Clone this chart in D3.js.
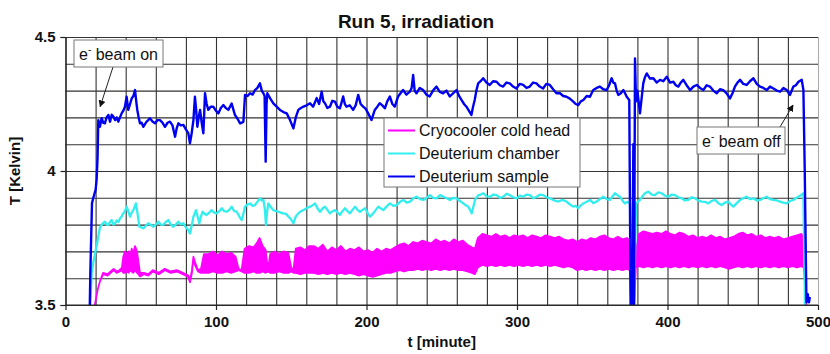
<!DOCTYPE html>
<html lang="en">
<head>
    <meta charset="UTF-8">
    <title>Run 5, irradiation</title>
    <script src="https://d3js.org/d3.v7.min.js"></script>
    <style>
        body {margin: 0; background: white;}
        text {font-family: Arial, "Liberation Sans", sans-serif; fill: #111;}
    </style>
</head>
<body>
<svg id="main" width="830" height="354"></svg>
<script>
    // values, [t (minute), T (Kelvin)]
    let sampleData = [
        [16,3.45],[16.5,3.62],[17.6,3.88],[18.5,3.90],[20,3.93],[20.7,3.97],[21.3,4.05],[21.8,4.19],[22.9,4.165],[24.0,4.197],
        [25.1,4.18],[26.2,4.178],[27.3,4.20],[28.5,4.209],[29.6,4.184],[30.7,4.21],[31.8,4.203],[33,4.19],[34,4.20],[35.1,4.184],
        [36.2,4.20],[37.3,4.215],[38.4,4.225],[39.5,4.24],[40.6,4.277],[41.7,4.228],[42.9,4.25],[44.0,4.271],[45.1,4.28],[46.2,4.302],
        [47.0,4.26],[47.7,4.228],[48.6,4.20],[49.5,4.178],[50.6,4.18],[51.7,4.165],[52.8,4.175],[53.9,4.184],[55,4.19],[56.1,4.197],
        [57.8,4.185],[59.5,4.178],[61.2,4.19],[62.8,4.19],[64.5,4.18],[66.1,4.165],[67.8,4.18],[69.4,4.184],[71.1,4.17],[72.8,4.128],
        [73.9,4.16],[75.0,4.178],[76.6,4.17],[78.3,4.172],[80,4.155],[81.6,4.141],[82.7,4.103],[83.8,4.14],[85.0,4.19],[86.0,4.277],
        [86.8,4.23],[87.6,4.165],[88.5,4.20],[89.4,4.228],[90.5,4.18],[91.6,4.141],[92.2,4.22],[92.7,4.29],[93.8,4.25],[94.9,4.228],
        [96.5,4.24],[98.2,4.24],[99.9,4.225],[101.6,4.215],[103.2,4.235],[104.9,4.246],[106.5,4.235],[108.2,4.228],[109.3,4.24],[110.4,4.252],
        [111.5,4.23],[112.6,4.209],[114.3,4.195],[116.0,4.178],[117.1,4.18],[118.2,4.184],[119.3,4.284],[121,4.28],[122.6,4.29],[124.3,4.285],
        [125.9,4.302],[127.5,4.31],[129.2,4.327],[130.4,4.30],[131.5,4.29],[132.3,4.28],[133.0,4.035],[133.6,4.25],[134.1,4.29],[136.1,4.27],
        [138.1,4.252],[140.3,4.24],[142.5,4.228],[144.8,4.22],[147.0,4.215],[149.2,4.19],[151.4,4.159],[153,4.20],[154.7,4.228],[156.4,4.235],
        [158.1,4.24],[160.3,4.245],[162.5,4.253],[164.5,4.24],[166.9,4.272],[168.5,4.25],[170.2,4.296],[171.3,4.26],[172.4,4.253],[174,4.235],
        [175.7,4.24],[177.3,4.262],[179,4.259],[180.6,4.24],[182.3,4.234],[183.4,4.255],[184.5,4.278],[185.6,4.25],[186.7,4.24],[188.9,4.245],
        [191.1,4.228],[192.8,4.245],[194.5,4.284],[196.1,4.25],[197.8,4.24],[199.5,4.232],[201.1,4.215],[203.3,4.19],[205.5,4.228],[207.2,4.24],
        [208.8,4.253],[210.5,4.245],[212.2,4.234],[213.8,4.26],[215.5,4.278],[217.2,4.25],[218.8,4.24],[221,4.278],[222.6,4.29],[224.3,4.302],
        [226.5,4.285],[228.8,4.296],[230,4.31],[231,4.358],[232,4.30],[233.2,4.29],[235.4,4.31],[237.6,4.302],[239.8,4.285],[242,4.278],
        [244.2,4.30],[246.5,4.315],[248.7,4.295],[250.9,4.29],[253.1,4.30],[255.3,4.278],[257.5,4.29],[259.8,4.302],[261.5,4.28],[263.1,4.265],
        [264.8,4.25],[266.4,4.24],[268,4.225],[269.7,4.209],[270.8,4.24],[271.9,4.265],[273,4.30],[274.2,4.327],[275.8,4.335],[277.5,4.346],
        [279.7,4.33],[281.9,4.321],[284.1,4.335],[286.4,4.333],[288.6,4.32],[290.8,4.315],[293,4.33],[295.2,4.327],[297.4,4.315],[299.6,4.308],
        [301.8,4.325],[304.1,4.321],[306.3,4.31],[308.5,4.315],[310.7,4.33],[312.9,4.327],[315.1,4.315],[317.3,4.308],[319.5,4.325],[321.8,4.321],
        [324,4.305],[326.2,4.29],[328.6,4.29],[330.7,4.28],[332.9,4.277],[335.1,4.27],[337.4,4.259],[339,4.25],[340.7,4.246],[342.4,4.26],
        [344.1,4.265],[346.3,4.28],[348.5,4.277],[349.6,4.29],[350.7,4.302],[352.9,4.31],[355.1,4.315],[357.3,4.305],[359.6,4.302],[361.2,4.32],
        [362.9,4.346],[364,4.33],[365.1,4.327],[366.2,4.30],[367.3,4.284],[369,4.29],[370.7,4.302],[371.8,4.29],[372.9,4.277],[374.6,4.265],
        [375.5,3.48],[376.6,3.48],[377.3,4.10],[377.8,3.48],[378.4,4.42],[379.1,4.26],[380,4.30],[381.7,4.215],[383.9,4.327],[385,4.35],
        [386.2,4.364],[388.4,4.345],[390.6,4.346],[392.8,4.33],[395.0,4.34],[397.2,4.335],[399.5,4.352],[401.7,4.33],[403.9,4.333],[405.5,4.32],
        [407.2,4.315],[408.8,4.33],[410.5,4.34],[412.7,4.32],[415.0,4.302],[417.2,4.315],[419.4,4.321],[421.6,4.31],[423.8,4.302],[426,4.32],
        [428.2,4.315],[430.4,4.30],[432.7,4.29],[434.9,4.305],[437.1,4.302],[439.3,4.29],[441.5,4.271],[443.2,4.29],[444.8,4.315],[446.5,4.33],
        [448.2,4.34],[450.4,4.325],[452.6,4.321],[454.8,4.335],[457.1,4.346],[459.3,4.325],[461.5,4.315],[463.7,4.31],[465.9,4.302],[468.1,4.315],
        [470.4,4.308],[472.6,4.30],[474.8,4.296],[477,4.31],[479.2,4.302],[481.4,4.284],[483.6,4.315],[485.3,4.32],[487.0,4.333],[489.2,4.34],
        [490.3,4.302],[491.2,4.0],[492.3,3.51],[493.2,3.54],[494,3.51],[494.6,3.53]
    ];
    let chamberData = [
        [16.3,3.48],[17.4,3.62],[18.5,3.66],[19.6,3.69],[20.7,3.72],[21.6,3.75],[22.9,3.79],[24.0,3.799],[25.1,3.806],[26.2,3.811],
        [27.3,3.80],[28.5,3.799],[29.6,3.81],[30.7,3.817],[31.8,3.80],[32.9,3.805],[34,3.815],[35.1,3.81],[36.2,3.823],[37.3,3.83],
        [38.4,3.842],[39.5,3.85],[40.6,3.867],[41.7,3.85],[42.9,3.83],[44,3.845],[45.1,3.854],[46.8,3.879],[47.9,3.84],[49.1,3.792],
        [50.4,3.79],[51.7,3.786],[53.3,3.795],[55.0,3.805],[56.7,3.798],[58.4,3.792],[60,3.80],[61.7,3.811],[63.3,3.80],[65.0,3.799],
        [66.7,3.81],[68.3,3.817],[70,3.80],[71.7,3.792],[73.3,3.80],[75.0,3.811],[76.7,3.80],[78.3,3.805],[80,3.79],[81.6,3.78],
        [82.7,3.767],[84,3.80],[85.0,3.83],[86.7,3.854],[87.8,3.83],[88.9,3.805],[90,3.83],[91.1,3.848],[92.5,3.84],[93.8,3.836],
        [95.5,3.845],[97.1,3.854],[98.8,3.845],[100.5,3.842],[102.2,3.85],[103.8,3.861],[105.5,3.85],[107.1,3.848],[108.8,3.855],[110.4,3.867],
        [112.1,3.85],[113.8,3.848],[115.5,3.83],[117.1,3.817],[118.2,3.84],[119.3,3.867],[121,3.875],[122.6,3.879],[124.3,3.87],[125.9,3.873],
        [127.5,3.885],[129.2,3.898],[130.4,3.89],[131.5,3.892],[132.4,3.86],[133.2,3.799],[134,3.85],[134.8,3.879],[136.5,3.865],[138.1,3.854],
        [139.8,3.85],[141.4,3.848],[143.1,3.845],[144.8,3.842],[146.5,3.84],[148.1,3.83],[149.8,3.82],[151.4,3.805],[153,3.83],[154.7,3.842],
        [156.4,3.85],[158.1,3.854],[160.3,3.862],[162.5,3.867],[164.2,3.872],[165.8,3.879],[167.5,3.86],[169.1,3.848],[170.8,3.86],[172.4,3.867],
        [174,3.855],[175.7,3.842],[177.4,3.85],[179.1,3.854],[180.8,3.845],[182.4,3.836],[184,3.85],[185.7,3.861],[187.4,3.85],[189.0,3.842],
        [190.7,3.855],[192.4,3.867],[194,3.855],[195.7,3.848],[197.4,3.855],[199.0,3.861],[200.6,3.845],[202.3,3.83],[204.5,3.842],[206.2,3.855],
        [207.9,3.867],[209.6,3.86],[211.2,3.854],[213.4,3.868],[215.6,3.879],[217.8,3.87],[220.0,3.873],[222.3,3.885],[224.5,3.892],[226.7,3.882],
        [228.9,3.886],[231.1,3.898],[233.3,3.904],[235.6,3.895],[237.8,3.892],[240,3.90],[242.2,3.91],[244.4,3.90],[246.6,3.898],[248.9,3.91],
        [251.1,3.904],[253.3,3.898],[255.5,3.892],[257.7,3.90],[259.9,3.898],[262.1,3.888],[264.3,3.879],[266,3.872],[267.7,3.867],[269.9,3.842],
        [272.1,3.892],[274.3,3.91],[276,3.912],[277.6,3.917],[279.9,3.905],[282.1,3.904],[284.3,3.912],[286.5,3.91],[288.7,3.90],[290.9,3.904],
        [293.1,3.915],[295.3,3.91],[297.6,3.902],[299.8,3.898],[302,3.908],[304.2,3.904],[306.4,3.912],[308.6,3.91],[310.9,3.898],[313.1,3.904],
        [315.3,3.912],[317.5,3.91],[319.7,3.902],[321.9,3.898],[324.7,3.89],[327.5,3.886],[330.2,3.892],[332.9,3.886],[335.2,3.875],[337.4,3.867],
        [339,3.87],[340.7,3.861],[342.4,3.872],[344.1,3.879],[346.3,3.885],[348.5,3.892],[350.7,3.88],[352.9,3.886],[355.1,3.895],[357.3,3.904],
        [359.6,3.895],[361.8,3.892],[363.5,3.905],[365.1,3.917],[366.8,3.91],[368.4,3.904],[370,3.89],[371.7,3.879],[373.4,3.885],[375.1,3.879],
        [376.2,3.48],[377.7,3.48],[379.1,3.879],[381.7,3.892],[383.3,3.905],[385.0,3.917],[387.3,3.923],[389.5,3.912],[391.7,3.91],[393.9,3.92],
        [396.1,3.917],[398.3,3.908],[400.6,3.904],[402.8,3.912],[405.0,3.91],[407.2,3.902],[409.4,3.898],[411.6,3.89],[413.9,3.892],[416.1,3.902],
        [418.3,3.898],[420.5,3.89],[422.7,3.886],[424.9,3.885],[427.1,3.879],[429.3,3.888],[431.6,3.892],[433.8,3.88],[436.0,3.873],[438.2,3.882],
        [440.4,3.886],[442.1,3.875],[443.8,3.867],[446,3.88],[448.2,3.892],[450.4,3.898],[452.6,3.904],[454.8,3.895],[457.1,3.898],[459.3,3.89],
        [461.5,3.892],[463.7,3.898],[465.9,3.904],[468.1,3.895],[470.4,3.892],[472.6,3.89],[474.8,3.886],[477,3.882],[479.2,3.879],[481.4,3.888],
        [483.6,3.892],[485.3,3.898],[487.0,3.904],[488.6,3.91],[490.3,3.917],[491.4,3.48]
    ];
    // the cold head jitters too fast to follow, so keep its band: [t, low, high]
    let coldHeadData = [
        [18.8,3.48,3.48],[21.5,3.56,3.56],[23,3.59,3.59],[25,3.615,3.62],[28,3.61,3.615],[30,3.62,3.625],[32,3.63,3.635],[34,3.62,3.625],[36,3.625,3.63],[37.5,3.63,3.64],
        [38.4,3.62,3.68],[39.5,3.62,3.70],[40.6,3.625,3.69],[42,3.62,3.70],[43,3.63,3.68],[44,3.625,3.71],[45,3.62,3.69],[46.2,3.63,3.72],[47.5,3.62,3.70],[48.5,3.615,3.66],
        [49.5,3.606,3.62],[52,3.615,3.62],[55,3.61,3.615],[58,3.625,3.63],[62,3.615,3.62],[66,3.63,3.635],[70,3.62,3.625],[74,3.625,3.63],[78,3.615,3.62],[81.6,3.605,3.61],
        [82.7,3.585,3.59],[84,3.62,3.63],[85,3.68,3.68],[86,3.65,3.66],[88,3.625,3.63],[90,3.62,3.635],[92,3.62,3.69],[95,3.62,3.69],[98,3.625,3.70],[101,3.62,3.685],
        [104,3.62,3.70],[107,3.625,3.69],[110,3.62,3.695],[113,3.625,3.68],[115,3.63,3.635],[117,3.625,3.63],[119,3.62,3.71],[122,3.62,3.72],[125,3.625,3.715],[127,3.62,3.73],
        [129,3.62,3.75],[131,3.625,3.72],[133,3.62,3.705],[134.5,3.625,3.63],[136,3.62,3.69],[139,3.62,3.70],[142,3.625,3.69],[145,3.62,3.70],[148,3.62,3.695],[150,3.625,3.64],
        [151.5,3.62,3.63],[153,3.62,3.71],[156,3.615,3.715],[159,3.62,3.705],[162,3.62,3.72],[165,3.62,3.72],[168,3.615,3.71],[171,3.62,3.725],[174,3.615,3.70],[177,3.62,3.715],
        [180,3.615,3.705],[183,3.62,3.72],[186,3.615,3.70],[189,3.62,3.71],[192,3.615,3.705],[195,3.61,3.715],[198,3.615,3.70],[201,3.61,3.705],[204,3.605,3.695],[207,3.61,3.71],
        [210,3.615,3.70],[213,3.62,3.71],[216,3.62,3.705],[219,3.625,3.715],[222,3.63,3.725],[225,3.625,3.73],[228,3.63,3.72],[231,3.63,3.735],[234,3.635,3.73],[237,3.63,3.74],
        [240,3.635,3.735],[243,3.63,3.73],[246,3.635,3.745],[249,3.63,3.735],[252,3.635,3.74],[255,3.63,3.73],[258,3.635,3.745],[261,3.63,3.735],[264,3.63,3.74],[267,3.625,3.725],
        [270,3.62,3.715],[272,3.615,3.71],[274,3.64,3.75],[277,3.65,3.765],[280,3.645,3.76],[283,3.65,3.755],[286,3.645,3.765],[289,3.65,3.755],[292,3.645,3.76],[295,3.65,3.75],
        [298,3.645,3.76],[301,3.65,3.755],[304,3.645,3.76],[307,3.65,3.75],[310,3.645,3.76],[313,3.65,3.755],[316,3.645,3.75],[319,3.65,3.76],[322,3.645,3.755],[325,3.65,3.75],
        [328,3.645,3.755],[331,3.64,3.745],[334,3.645,3.74],[337,3.64,3.745],[340,3.63,3.735],[343,3.635,3.745],[346,3.63,3.74],[349,3.635,3.75],[352,3.63,3.745],[355,3.635,3.755],
        [358,3.63,3.76],[361,3.635,3.75],[364,3.63,3.745],[367,3.635,3.755],[370,3.63,3.745],[373,3.635,3.75],[375,3.63,3.74],[376,3.48,3.48],[377.5,3.48,3.48],[379,3.64,3.70],
        [381,3.645,3.765],[384,3.64,3.775],[387,3.645,3.77],[390,3.64,3.765],[393,3.645,3.77],[396,3.64,3.765],[399,3.645,3.775],[402,3.64,3.765],[405,3.645,3.76],[408,3.64,3.77],
        [411,3.645,3.765],[414,3.64,3.755],[417,3.645,3.76],[420,3.64,3.75],[423,3.645,3.755],[426,3.64,3.75],[429,3.645,3.76],[432,3.64,3.75],[435,3.645,3.755],[438,3.64,3.745],
        [441,3.635,3.75],[444,3.64,3.755],[447,3.645,3.765],[450,3.64,3.77],[453,3.645,3.76],[456,3.64,3.765],[459,3.645,3.755],[462,3.64,3.76],[465,3.645,3.75],[468,3.64,3.755],
        [471,3.645,3.75],[474,3.64,3.755],[477,3.645,3.745],[480,3.64,3.75],[483,3.645,3.755],[486,3.64,3.76],[489,3.645,3.765],[490.5,3.64,3.75],[491.5,3.58,3.60],[492.5,3.48,3.48]
    ];
    let xTicks = [0, 100, 200, 300, 400, 500];
    let yTicks = [3.5, 4, 4.5];
    let seriesNames = ['Cryocooler cold head', 'Deuterium chamber', 'Deuterium sample'];
    let seriesColors = ['#ff00ff', '#33eeee', '#0000f0'];

    let svg = d3.select('svg#main');
    let W = 830, H = 354;
    let margins = {left: 65.5, right: 12, top: 37, bottom: 49};

    let scaleT = d3.scaleLinear().domain([0, 500]).range([margins.left, W - margins.right]);
    let scaleK = d3.scaleLinear().domain([3.5, 4.5]).range([H - margins.bottom, margins.top]);

    //grid first, every 20 minutes and every 0.1 K
    let plotH = scaleK(3.5) - scaleK(4.5);
    let plotW = scaleT(500) - scaleT(0);
    let gridX = svg.append('g')
        .attr('transform', 'translate(0,' + scaleK(3.5) + ')')
        .call(d3.axisBottom(scaleT).tickValues(d3.range(0, 501, 20)).tickSize(-plotH).tickFormat(''));
    let gridY = svg.append('g')
        .attr('transform', 'translate(' + scaleT(0) + ',0)')
        .call(d3.axisLeft(scaleK).tickValues(d3.range(3.5, 4.51, 0.1)).tickSize(-plotW).tickFormat(''));
    svg.selectAll('g line').attr('stroke', '#333').attr('stroke-width', 1.1);
    gridX.select('.domain').remove();
    gridY.select('.domain').remove();
    // the last grid line on the right is lighter
    gridX.selectAll('.tick').filter(function (d) { return d === 500; }).select('line').attr('stroke', '#aaa');

    //clip the curves to the plot
    svg.append('clipPath').attr('id', 'plotclip')
        .append('rect')
        .attr('x', scaleT(0)).attr('y', scaleK(4.5))
        .attr('width', plotW).attr('height', plotH);
    let fig = svg.append('g').attr('clip-path', 'url(#plotclip)');

    let band = d3.area()
        .x(function (d) { return scaleT(d[0]); })
        .y0(function (d) { return scaleK(d[1]); })
        .y1(function (d) { return scaleK(d[2]); });
    let line = d3.line()
        .x(function (d) { return scaleT(d[0]); })
        .y(function (d) { return scaleK(d[1]); });

    fig.append('path').datum(coldHeadData)
        .attr('d', band)
        .style('fill', seriesColors[0])
        .style('stroke', seriesColors[0])
        .style('stroke-width', '1.8px')
        .style('stroke-linejoin', 'round');
    fig.append('path').datum(chamberData)
        .attr('d', line)
        .style('fill', 'none')
        .style('stroke', seriesColors[1])
        .style('stroke-width', '2.3px')
        .style('stroke-linejoin', 'round');
    fig.append('path').datum(sampleData)
        .attr('d', line)
        .style('fill', 'none')
        .style('stroke', seriesColors[2])
        .style('stroke-width', '2.4px')
        .style('stroke-linejoin', 'round');

    //axes with labels
    let xAxis = svg.append('g')
        .attr('transform', 'translate(0,' + scaleK(3.5) + ')')
        .call(d3.axisBottom(scaleT).tickValues(xTicks).tickSize(5).tickPadding(6).tickFormat(d3.format('d')));
    let yAxis = svg.append('g')
        .attr('transform', 'translate(' + scaleT(0) + ',0)')
        .call(d3.axisLeft(scaleK).tickValues(yTicks).tickSize(5).tickPadding(5).tickFormat(d3.format('')));
    [xAxis, yAxis].forEach(function (a) {
        a.selectAll('path, line').attr('stroke', '#222').attr('stroke-width', 1.2);
        a.selectAll('text')
            .style('font-family', 'Arial, "Liberation Sans", sans-serif')
            .style('font-size', '15px')
            .style('font-weight', 'bold')
            .attr('fill', '#111');
    });
    xAxis.select('.domain').attr('d', 'M' + scaleT(0) + ',0H' + scaleT(500));

    //titles
    svg.append('text').attr('x', 416).attr('y', 28)
        .attr('text-anchor', 'middle')
        .style('font-size', '19px').style('font-weight', 'bold')
        .text('Run 5, irradiation');
    svg.append('text').attr('x', (scaleT(0) + scaleT(500)) / 2).attr('y', 347)
        .attr('text-anchor', 'middle')
        .style('font-size', '15px').style('font-weight', 'bold')
        .text('t [minute]');
    svg.append('text')
        .attr('transform', 'translate(20,' + scaleK(4) + ') rotate(-90)')
        .attr('text-anchor', 'middle')
        .style('font-size', '15px').style('font-weight', 'bold')
        .text('T [Kelvin]');

    //legend
    let legend = svg.append('g').attr('transform', 'translate(384,118)');
    legend.append('rect').attr('width', 196).attr('height', 69)
        .attr('fill', 'white').attr('stroke', '#777');
    seriesNames.forEach(function (name, i) {
        let row = legend.append('g').attr('transform', 'translate(0,' + (12.5 + i * 23) + ')');
        row.append('line').attr('x1', 4).attr('x2', 31)
            .attr('stroke', seriesColors[i]).attr('stroke-width', 2);
        row.append('text').attr('x', 35).attr('y', 5.5)
            .style('font-size', '16px')
            .text(name);
    });

    //annotation boxes with arrows
    svg.append('defs').append('marker')
        .attr('id', 'arrow').attr('viewBox', '0 0 10 10')
        .attr('refX', 9).attr('refY', 5)
        .attr('markerWidth', 7).attr('markerHeight', 7)
        .attr('orient', 'auto')
        .append('path').attr('d', 'M0,0L10,5L0,10z').attr('fill', '#111');

    function note(label, bx, by, bw, fromX, fromY, tipT, tipK) {
        svg.append('line')
            .attr('x1', fromX).attr('y1', fromY)
            .attr('x2', scaleT(tipT)).attr('y2', scaleK(tipK))
            .attr('stroke', '#222').attr('stroke-width', 1)
            .attr('marker-end', 'url(#arrow)');
        svg.append('rect').attr('x', bx).attr('y', by)
            .attr('width', bw).attr('height', 27)
            .attr('fill', 'white').attr('stroke', '#777');
        let t = svg.append('text').attr('x', bx + 5).attr('y', by + 19.5).style('font-size', '16px');
        t.append('tspan').text('e');
        t.append('tspan').attr('dy', -7).style('font-size', '10px').text('-');
        t.append('tspan').attr('dy', 7).text(' ' + label);
    }
    note('beam on', 74, 40, 89, 113, 67, 23, 4.24);
    note('beam off', 697, 127, 88, 780, 127, 483.4, 4.246);
</script>
</body>
</html>
